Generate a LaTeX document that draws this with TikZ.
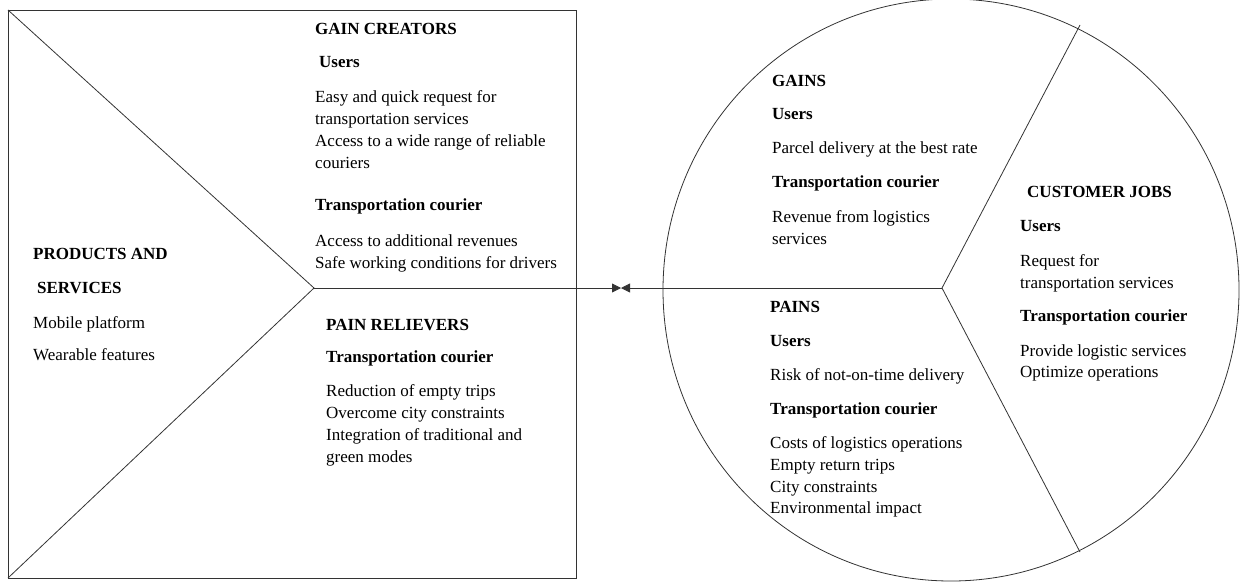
\documentclass[tikz,border=0pt]{standalone}
\usepackage{fontspec}
\setmainfont{Liberation Serif}
\usetikzlibrary{arrows.meta}
\begin{document}
\begin{tikzpicture}[x=1pt,y=-1pt,
  ln/.style={line width=0.8pt, draw=black!80},
  txt/.style={anchor=base west, inner sep=0pt, font=\fontsize{17}{20}\selectfont},
  hd/.style={txt, font=\fontsize{17}{20}\selectfont\bfseries},
  tip/.style={-{Triangle[length=9pt,width=9pt]}}]
\useasboundingbox (0,0) rectangle (1246,582);
% value proposition square
\draw[ln] (8,10) rectangle (576,578);
\coordinate (tl) at (8,10);
\coordinate (bl) at (8,578);
\coordinate (apex) at (314,288);
\draw[ln] (tl) -- (apex) -- (bl);
% customer profile circle
\draw[ln] (951,290) ellipse [x radius=288, y radius=291];
\coordinate (jc) at (942,288);
\coordinate (ctop) at (1080,25);
\coordinate (cbot) at (1080,552);
\draw[ln] (ctop) -- (jc) -- (cbot);
% fit arrows
\coordinate (mid) at (621,288);
\draw[ln,tip] (apex) -- (mid);
\draw[ln,tip] (jc) -- (mid);
% gain creators
\node[hd] (gc) at (315,34) {GAIN CREATORS};
\node[hd] (gcu) at (319,67) {Users};
\node[txt] (gc1) at (315,102) {Easy and quick request for};
\node[txt] (gc2) at (315,124) {transportation services};
\node[txt] (gc3) at (315,146) {Access to a wide range of reliable};
\node[txt] (gc4) at (315,168) {couriers};
\node[hd] (gct) at (315,210) {Transportation courier};
\node[txt] (gc5) at (315,246) {Access to additional revenues};
\node[txt] (gc6) at (315,268) {Safe working conditions for drivers};
% pain relievers
\node[hd] (pr) at (326,330) {PAIN RELIEVERS};
\node[hd] (prt) at (326,362) {Transportation courier};
\node[txt] (pr1) at (326,396) {Reduction of empty trips};
\node[txt] (pr2) at (326,418) {Overcome city constraints};
\node[txt] (pr3) at (326,440) {Integration of traditional and};
\node[txt] (pr4) at (326,462) {green modes};
% products and services
\node[hd] (ps1) at (33,259) {PRODUCTS AND};
\node[hd] (ps2) at (37,293) {SERVICES};
\node[txt] (ps3) at (33,328) {Mobile platform};
\node[txt] (ps4) at (33,360) {Wearable features};
% gains
\node[hd] (g) at (772,86) {GAINS};
\node[hd] (gu) at (772,119) {Users};
\node[txt] (g1) at (772,153) {Parcel delivery at the best rate};
\node[hd] (gt) at (772,187) {Transportation courier};
\node[txt] (g2) at (772,222) {Revenue from logistics};
\node[txt] (g3) at (772,244) {services};
% customer jobs
\node[hd] (cj) at (1027,197) {CUSTOMER JOBS};
\node[hd] (cju) at (1020,231) {Users};
\node[txt] (cj1) at (1020,266) {Request for};
\node[txt] (cj2) at (1020,288) {transportation services};
\node[hd] (cjt) at (1020,321) {Transportation courier};
\node[txt] (cj3) at (1020,356) {Provide logistic services};
\node[txt] (cj4) at (1020,377) {Optimize operations};
% pains
\node[hd] (p) at (770,312) {PAINS};
\node[hd] (pu) at (770,346) {Users};
\node[txt] (p1) at (770,380) {Risk of not-on-time delivery};
\node[hd] (pt) at (770,414) {Transportation courier};
\node[txt] (p2) at (770,448) {Costs of logistics operations};
\node[txt] (p3) at (770,470) {Empty return trips};
\node[txt] (p4) at (770,492) {City constraints};
\node[txt] (p5) at (770,513) {Environmental impact};
\end{tikzpicture}
\end{document}
